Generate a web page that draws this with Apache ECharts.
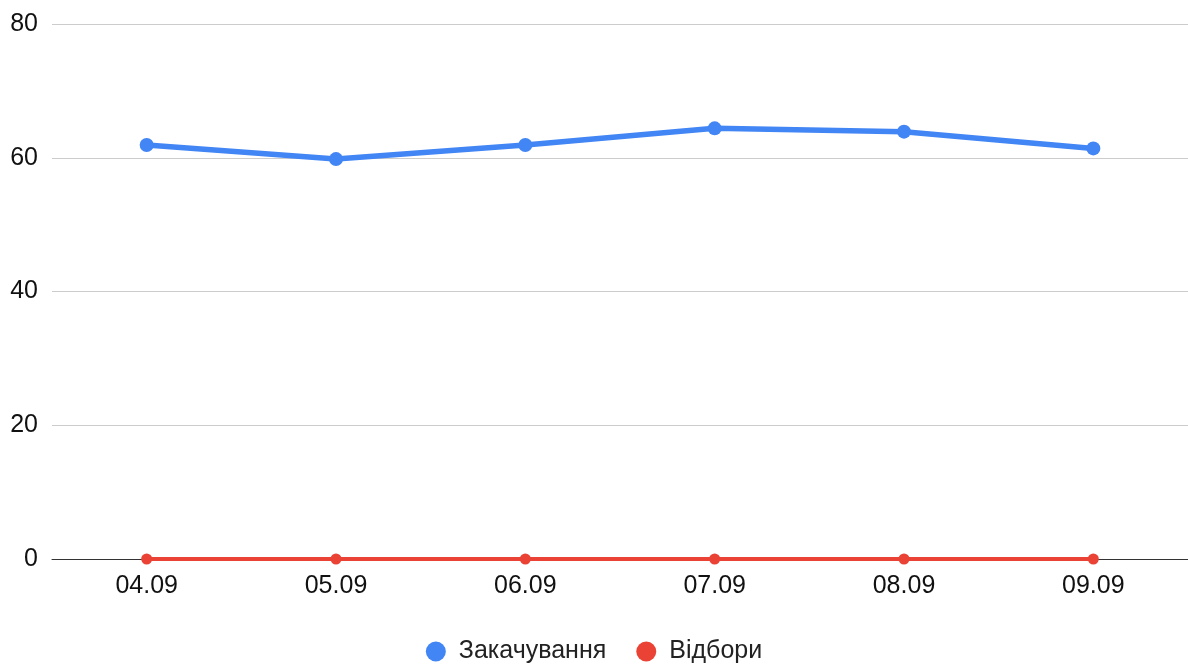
<!DOCTYPE html>
<html>
<head>
<meta charset="utf-8">
<script src="https://cdn.jsdelivr.net/npm/echarts@6/dist/echarts.min.js"></script>
<style>html,body{margin:0;padding:0;background:#fff}#c{width:1188px;height:666px}</style>
</head>
<body>
<div id="c"></div>
<script>
const categories = ['04.09', '05.09', '06.09', '07.09', '08.09', '09.09'];
const zakachuvannia = [61.9, 59.8, 61.9, 64.4, 63.9, 61.4];
const vidbory = [0, 0, 0, 0, 0, 0];
const seriesNames = ['Закачування', 'Відбори'];
const yTicks = { min: 0, max: 80, interval: 20 };

const chart = echarts.init(document.getElementById('c'));
const font = 'Liberation Sans, Arial, sans-serif';
chart.setOption({
  animation: false,
  grid: { left: 52, right: 0, top: 24, bottom: 107 },
  legend: {
    bottom: -3,
    left: 'center',
    itemWidth: 20, itemHeight: 20, itemGap: 30,
    icon: 'circle',
    textStyle: { fontFamily: font, fontSize: 25, color: '#222', padding: [0, 0, 0, 8] },
    data: seriesNames
  },
  xAxis: {
    type: 'category',
    data: categories,
    boundaryGap: true,
    axisLine: { lineStyle: { color: '#333', width: 1 } },
    axisTick: { show: false },
    axisLabel: { fontFamily: font, fontSize: 25, color: '#111', margin: 15 }
  },
  yAxis: {
    type: 'value',
    min: yTicks.min, max: yTicks.max, interval: yTicks.interval,
    axisLine: { show: false },
    axisTick: { show: false },
    axisLabel: { fontFamily: font, fontSize: 25, color: '#111', margin: 14 },
    splitLine: { lineStyle: { color: '#ccc', width: 1 } }
  },
  series: [
    {
      name: seriesNames[0], type: 'line', data: zakachuvannia,
      color: '#4285f4', symbol: 'circle', symbolSize: 14,
      lineStyle: { width: 5.5, color: '#4285f4' },
      itemStyle: { color: '#4285f4' }
    },
    {
      name: seriesNames[1], type: 'line', data: vidbory,
      color: '#ea4335', symbol: 'circle', symbolSize: 11,
      lineStyle: { width: 4, color: '#ea4335' },
      itemStyle: { color: '#ea4335' }
    }
  ]
});
</script>
</body>
</html>
